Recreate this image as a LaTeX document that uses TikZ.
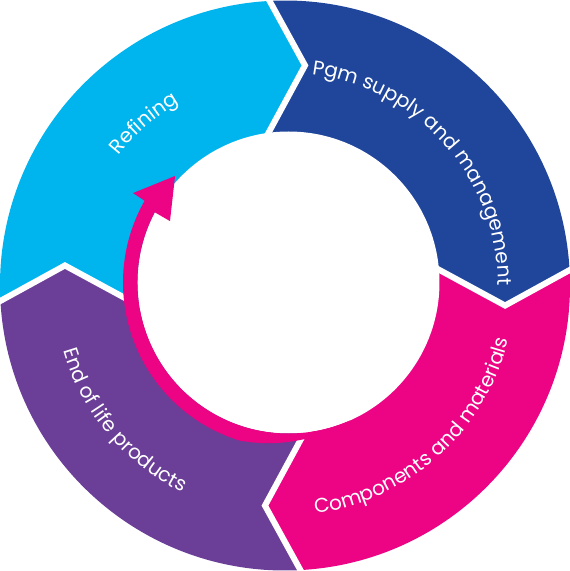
\documentclass[tikz,border=0pt]{standalone}
\usepackage{fontspec}
\setmainfont{Poppins}
\usetikzlibrary{calc,decorations.text}

\definecolor{refcyan}{RGB}{0,180,238}
\definecolor{pgmblue}{RGB}{32,70,155}
\definecolor{comppink}{RGB}{236,4,132}
\definecolor{eolpurple}{RGB}{107,62,151}
\newcommand{\ringfont}{\fontsize{20}{22}\selectfont}

\begin{document}
\begin{tikzpicture}[
    x=1pt, y=1pt,
    gap/.style={draw=white, line width=6pt, line join=miter},
    ringlabel/.style={
        decorate, decoration={text along path, text align=center,
        text color=white, text={|\ringfont|#1}}
    },
]
\useasboundingbox (-285,-285.5) rectangle (285,285.5);

% Chevron boundaries, one every 90 degrees
\foreach \k/\t in {1/84.8, 2/-5.2, 3/-95.2, 4/-185.2} {
    \coordinate (out\k) at ({\t+8.3}:285);
    \coordinate (tip\k) at (\t:221);
    \coordinate (in\k) at ({\t+11}:155);
}

% Ring segments
\foreach \a/\b/\c/\s in {4/1/refcyan/-176.9, 1/2/pgmblue/93.1,
                         2/3/comppink/3.1, 3/4/eolpurple/-86.9} {
    \fill[\c] (out\a) arc[start angle=\s, end angle=\s-90, radius=285pt]
        -- (tip\b) -- ($(tip\b)!1.3!(in\b)$) -- (0,0)
        -- ($(tip\a)!1.3!(in\a)$) -- (tip\a) -- cycle;
}

% White gaps
\foreach \k in {1,...,4}
    \draw[gap] ($(tip\k)!1.25!(out\k)$) -- (tip\k) -- ($(tip\k)!1.3!(in\k)$);

% Hole
\fill[white] (3.5,3) circle[radius=151pt];

% Inner arrow
\fill[comppink, shift={(3.5,3)}]
    plot[domain=-66:-107, samples=12] (\x:{151+14.5*(-66-\x)/41})
    arc[start angle=-107, end angle=-209.6, radius=165.5pt]
    -- (-209.9:179.4) -- (-223.2:155.6) -- (-207.4:133.5) -- (-207.7:151)
    arc[start angle=-207.7, end angle=-66, radius=151pt] -- cycle;

% Labels
\path[ringlabel={Refining}]
    (191:211) arc[start angle=191, end angle=71, radius=211pt];
\path[ringlabel={Pgm supply and management}]
    (101.4:213) arc[start angle=101.4, end angle=-18.6, radius=213pt];
\path[ringlabel={Components and materials}]
    (-108:230) arc[start angle=-108, end angle=12, radius=230pt];
\path[ringlabel={End of life products}]
    (160:231) arc[start angle=160, end angle=280, radius=231pt];
\end{tikzpicture}
\end{document}
